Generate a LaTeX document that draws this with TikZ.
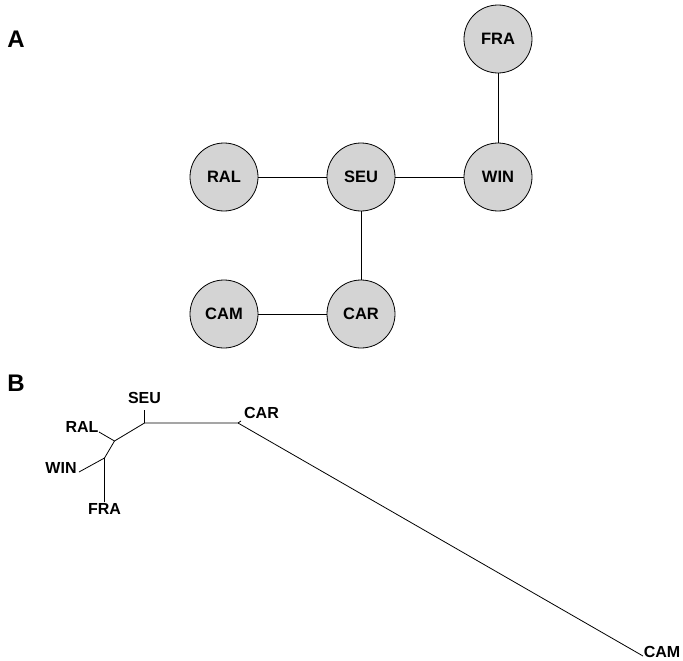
\documentclass[tikz,border=0pt]{standalone}
\usepackage{fontspec}
\setmainfont{Liberation Sans}

\tikzset{
  site/.style={circle, draw, fill=black!17, minimum size=68pt, inner sep=0pt,
    font=\bfseries\fontsize{16.5}{16.5}\selectfont},
  tip/.style={inner sep=1pt, font=\bfseries\fontsize{16}{16}\selectfont},
  panel/.style={inner sep=0pt, font=\bfseries\fontsize{24}{24}\selectfont}
}

\begin{document}
\begin{tikzpicture}[x=1pt, y=-1pt, line width=0.8pt]
  \useasboundingbox (0,0) rectangle (683,661);
  % network of sites
  \node[panel] (pa) at (16,39) {A};
  \node[site] (fra) at (498,39) {FRA};
  \node[site] (ral) at (224,177) {RAL};
  \node[site] (seu) at (361,177) {SEU};
  \node[site] (win) at (498,177) {WIN};
  \node[site] (cam) at (224,314) {CAM};
  \node[site] (car) at (361,314) {CAR};
  \draw (ral) -- (seu);
  \draw (seu) -- (win);
  \draw (win) -- (fra);
  \draw (seu) -- (car);
  \draw (cam) -- (car);

  % unrooted tree
  \node[panel] (pb) at (16,383.5) {B};
  \coordinate (j1) at (144.5,423);
  \coordinate (j2) at (114.5,441);
  \coordinate (j3) at (104.5,458);
  \coordinate (j4) at (238,423);
  \coordinate (eseu) at (144.5,410);
  \coordinate (eral) at (99,432);
  \coordinate (ewin) at (79,472);
  \coordinate (efra) at (104.5,502);
  \coordinate (ecar) at (241,421);
  \coordinate (ecam) at (643,656);
  \node[tip] (lseu) at (144.5,398) {SEU};
  \node[tip] (lral) at (82,427) {RAL};
  \node[tip] (lwin) at (61,468) {WIN};
  \node[tip] (lfra) at (104.5,509) {FRA};
  \node[tip] (lcar) at (261.5,413) {CAR};
  \node[tip] (lcam) at (662,652) {CAM};
  \draw (eseu) -- (j1) -- (j4) -- (ecam);
  \draw (j4) -- (ecar);
  \draw (j1) -- (j2) -- (j3) -- (efra);
  \draw (j2) -- (eral);
  \draw (j3) -- (ewin);
\end{tikzpicture}
\end{document}
